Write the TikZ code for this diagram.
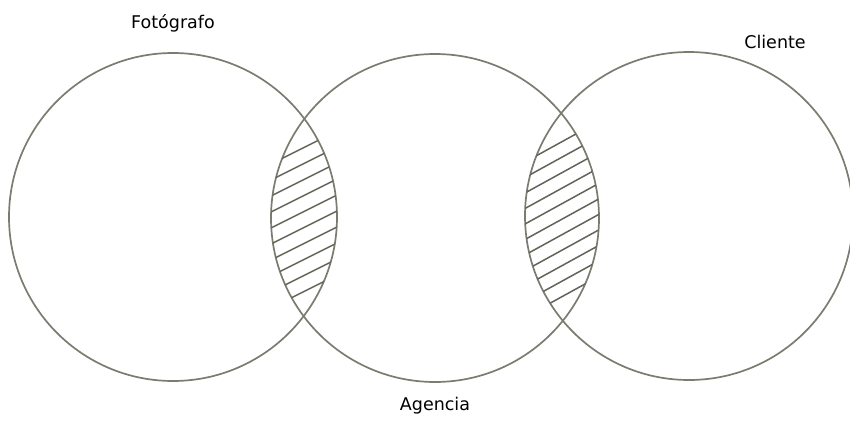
\documentclass[tikz,border=0pt]{standalone}
\usepackage{fontspec}
\setmainfont{DejaVu Sans}
\usetikzlibrary{positioning}
\definecolor{lapiz}{RGB}{122,124,112}
\definecolor{grafito}{RGB}{98,100,90}

\begin{document}
\begin{tikzpicture}[x=1pt,y=-1pt,
        conjunto/.style={circle,draw=lapiz,line width=1.7pt,minimum size=328pt,inner sep=0pt},
        rotulo/.style={font=\fontsize{17.5}{20}\selectfont,inner sep=2pt},
        trazo/.style={draw=grafito,line width=1.5pt}]
      \useasboundingbox (0,0) rectangle (850,420);
      \node[conjunto] (fot) at (173,217) {};
      \node[conjunto] (age) at (435,218) {};
      \node[conjunto] (cli) at (689,216) {};
      \begin{scope}
        \clip (fot.center) circle[radius=164pt];
        \clip (age.center) circle[radius=164pt];
        \foreach \k in {0,...,9}
          \draw[trazo] (245,177+16*\k) -- (365,117+16*\k);
      \end{scope}
      \begin{scope}
        \clip (age.center) circle[radius=164pt];
        \clip (cli.center) circle[radius=164pt];
        \foreach \k in {0,...,10}
          \draw[trazo] (505,173+15.5*\k) -- (625,107+15.5*\k);
      \end{scope}
      \node[rotulo,above=18pt of fot] (tfot) {Fotógrafo};
      \node[rotulo] (tcli) at (775,42) {Cliente};
      \node[rotulo,below=12pt of age] (tage) {Agencia};
    \end{tikzpicture}
\end{document}
